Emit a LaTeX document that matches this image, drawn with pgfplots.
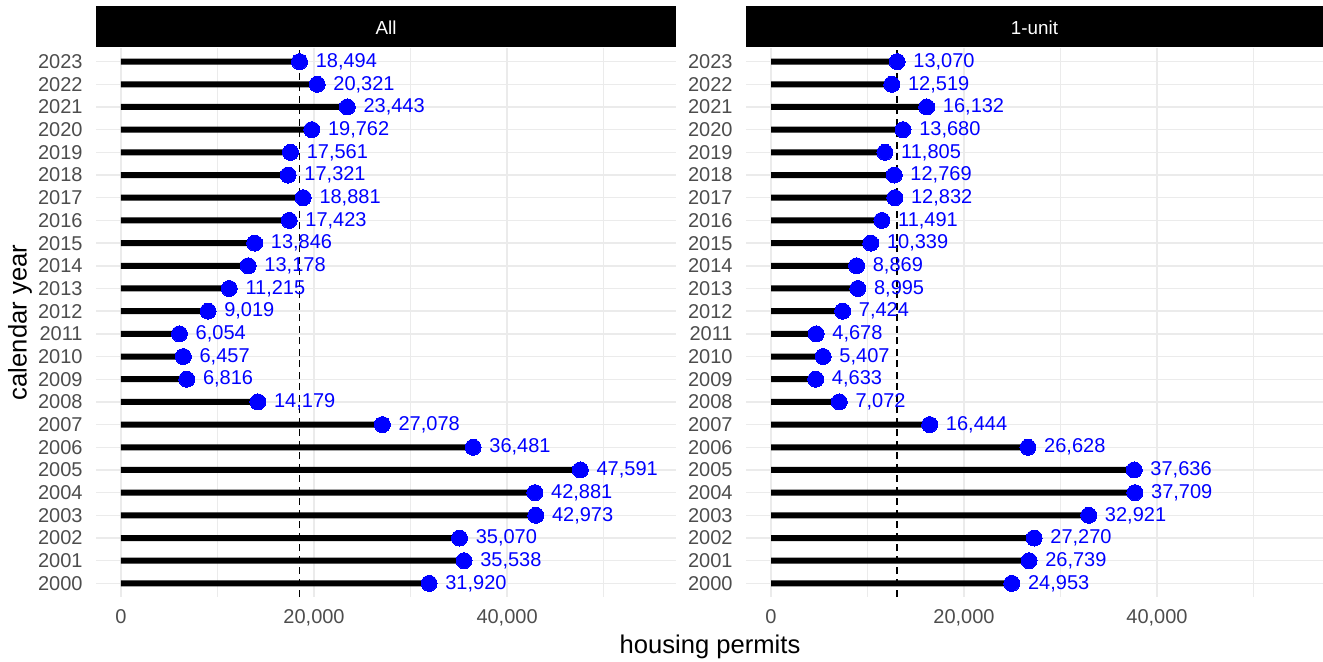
\documentclass[border=0pt]{standalone}
\usepackage{fontspec}
\setmainfont{Liberation Sans}
\usepackage{pgfplots}
\usepackage{pgfplotstable}
\pgfplotsset{compat=1.18}

\definecolor{gridgray}{HTML}{EBEBEB}
\definecolor{ticktext}{HTML}{4D4D4D}

% year, all permits, 1-unit permits
\pgfplotstableread{
year all   alllab one   onelab
2000 31920 31,920 24953 24,953
2001 35538 35,538 26739 26,739
2002 35070 35,070 27270 27,270
2003 42973 42,973 32921 32,921
2004 42881 42,881 37709 37,709
2005 47591 47,591 37636 37,636
2006 36481 36,481 26628 26,628
2007 27078 27,078 16444 16,444
2008 14179 14,179 7072  7,072
2009 6816  6,816  4633  4,633
2010 6457  6,457  5407  5,407
2011 6054  6,054  4678  4,678
2012 9019  9,019  7424  7,424
2013 11215 11,215 8995  8,995
2014 13178 13,178 8869  8,869
2015 13846 13,846 10339 10,339
2016 17423 17,423 11491 11,491
2017 18881 18,881 12832 12,832
2018 17321 17,321 12769 12,769
2019 17561 17,561 11805 11,805
2020 19762 19,762 13680 13,680
2021 23443 23,443 16132 16,132
2022 20321 20,321 12519 12,519
2023 18494 18,494 13070 13,070
}\permits

\pgfplotsset{
  panel/.style={
    scale only axis,
    height=274.5pt,
    xmin=-2590, ymin=1999.4, ymax=2023.6,
    ytick={2000,...,2023},
    xtick={0,20000,40000},
    minor xtick={10000,30000,50000},
    scaled x ticks=false, scaled y ticks=false,
    grid=both,
    major grid style={gridgray, line width=0.7pt},
    minor grid style={gridgray, line width=0.4pt},
    axis line style={draw=none},
    major tick style={draw=none}, minor tick style={draw=none},
    /pgf/number format/assume math mode=true,
    yticklabel style={/pgf/number format/1000 sep={}, font=\fontsize{10}{12}\selectfont,
      text=ticktext, xshift=-3.2pt},
    xticklabel style={/pgf/number format/1000 sep={,}, font=\fontsize{10}{12}\selectfont,
      text=ticktext, yshift=-2.7pt},
  },
  stem/.style={xbar, bar width=3pt, bar shift=0pt, fill=black, draw=none},
  dots/.style={blue, only marks, mark=*, mark size=4pt,
    mark options={solid, fill=blue, draw=blue, line width=0pt},
    point meta=explicit symbolic,
    nodes near coords,
    every node near coord/.append style={anchor=west, xshift=4.8pt,
      font=\fontsize{10}{12}\selectfont, text=blue}},
  refline/.style={black, line width=0.7pt, dash pattern=on 3.5pt off 2.25pt},
}

\begin{document}
\begin{tikzpicture}
\useasboundingbox (0,0) rectangle (661.5pt,330.5pt);

\begin{axis}[panel, at={(48pt,32pt)}, anchor=south west, width=290pt, xmax=57500]
  \addplot[refline] coordinates {(18494,1999.4) (18494,2023.6)};
  \addplot[stem] table[x=all, y=year] {\permits};
  \addplot[dots] table[x=all, y=year, meta=alllab] {\permits};
\end{axis}

\begin{axis}[panel, at={(373pt,32pt)}, anchor=south west, width=288.5pt, xmax=57200]
  \addplot[refline] coordinates {(13070,1999.4) (13070,2023.6)};
  \addplot[stem] table[x=one, y=year] {\permits};
  \addplot[dots] table[x=one, y=year, meta=onelab] {\permits};
\end{axis}

% facet strips
\fill[black] (48pt,307pt) rectangle (338pt,327.5pt);
\node[text=white, font=\fontsize{9.4}{11}\selectfont] at (193pt,316.8pt) {All};
\fill[black] (373pt,307pt) rectangle (661.5pt,327.5pt);
\node[text=white, font=\fontsize{9.4}{11}\selectfont] at (517.25pt,316.8pt) {1-unit};

% axis titles
\node[font=\fontsize{12.8}{15}\selectfont] at (355pt,7pt) {housing permits};
\node[font=\fontsize{12.8}{15}\selectfont, rotate=90] at (10pt,169.25pt) {calendar year};
\end{tikzpicture}
\end{document}
